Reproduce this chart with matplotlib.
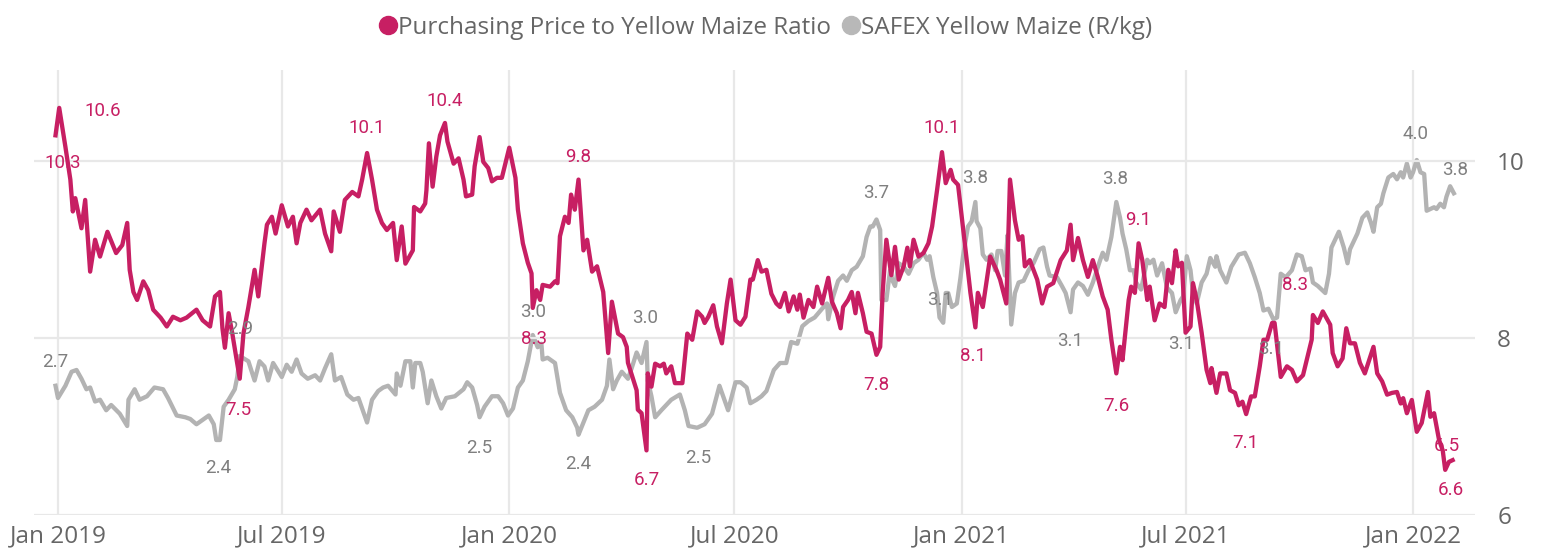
import matplotlib
matplotlib.use("Agg")
import matplotlib.pyplot as plt
import matplotlib.dates as mdates
from matplotlib.lines import Line2D
import pandas as pd

# day offsets from 2019-01-01 and values
ratio_days = [
    -2, 1, 6, 10, 12, 14, 19, 22, 26, 30, 34, 40, 47, 52, 56, 58, 61, 64, 69, 73,
    77, 83, 88, 93, 99, 104, 112, 117, 123, 127, 131, 133, 135, 138, 141, 147, 150, 154, 159, 162,
    167, 169, 173, 176, 181, 186, 190, 193, 196, 201, 205, 212, 216, 221, 223, 228, 232, 238, 243, 246,
    250, 254, 258, 262, 266, 271, 274, 278, 281, 287, 288, 293, 297, 298, 300, 303, 306, 309, 313, 315,
    320, 324, 328, 330, 335, 337, 341, 344, 348, 351, 355, 359, 365, 370, 372, 376, 380, 383, 384, 387,
    390, 392, 398, 402, 404, 406, 410, 413, 415, 418, 421, 425, 428, 432, 436, 441, 445, 448, 453, 457,
    460, 461, 468, 469, 472, 476, 477, 480, 483, 487, 490, 492, 496, 499, 505, 509, 513, 517, 521, 523,
    526, 530, 533, 537, 541, 544, 548, 552, 556, 560, 562, 566, 569, 573, 577, 581, 584, 588, 591, 595,
    598, 600, 603, 607, 611, 614, 618, 623, 626, 630, 633, 635, 639, 642, 645, 647, 651, 654, 658, 662,
    665, 667, 670, 674, 677, 680, 684, 687, 689, 692, 696, 700, 704, 707, 711, 715, 718, 722, 724, 728,
    731, 735, 738, 742, 744, 748, 754, 759, 762, 767, 770, 774, 777, 780, 782, 786, 792, 796, 800, 805,
    811, 816, 819, 821, 825, 829, 833, 837, 841, 845, 849, 852, 856, 859, 861, 866, 868, 871, 874, 877,
    881, 883, 887, 891, 895, 898, 901, 904, 906, 909, 912, 916, 918, 921, 925, 929, 932, 933, 937, 940,
    945, 948, 952, 955, 958, 961, 965, 968, 972, 975, 978, 982, 984, 989, 994, 998, 1002, 1007, 1010, 1014,
    1015, 1019, 1023, 1029, 1031, 1035, 1039, 1042, 1045, 1049, 1053, 1057, 1060, 1064, 1067, 1071, 1075, 1079, 1083, 1086,
    1088, 1091, 1095, 1099, 1103, 1108, 1110, 1113, 1117, 1120, 1122, 1125, 1128,
]
ratio = [
    10.29, 10.60, 10.16, 9.79, 9.43, 9.58, 9.24, 9.56, 8.75, 9.11, 8.92, 9.20, 8.96, 9.05, 9.30, 8.77, 8.52, 8.43, 8.64, 8.54,
    8.32, 8.23, 8.13, 8.24, 8.20, 8.23, 8.32, 8.20, 8.13, 8.47, 8.52, 8.11, 7.89, 8.28, 8.05, 7.54, 8.05, 8.35, 8.77, 8.47,
    9.07, 9.28, 9.37, 9.18, 9.50, 9.26, 9.37, 9.07, 9.30, 9.45, 9.33, 9.45, 9.18, 8.98, 9.43, 9.20, 9.56, 9.65, 9.60, 9.79,
    10.09, 9.79, 9.45, 9.30, 9.22, 9.30, 8.88, 9.26, 8.84, 8.99, 9.48, 9.43, 9.52, 9.67, 10.20, 9.71, 10.05, 10.29, 10.43, 10.22,
    9.97, 10.03, 9.79, 9.60, 9.62, 9.94, 10.27, 9.99, 9.92, 9.77, 9.81, 9.81, 10.15, 9.81, 9.45, 9.07, 8.85, 8.73, 8.34, 8.54,
    8.43, 8.60, 8.58, 8.64, 8.62, 9.15, 9.37, 9.30, 9.62, 9.45, 9.79, 8.99, 9.11, 8.75, 8.81, 8.52, 7.83, 8.41, 8.05, 8.01,
    7.90, 7.72, 7.41, 7.19, 7.15, 6.73, 7.60, 7.45, 7.71, 7.68, 7.71, 7.60, 7.68, 7.49, 7.49, 8.05, 7.98, 8.30, 8.24, 8.17,
    8.24, 8.37, 8.13, 7.94, 8.39, 8.66, 8.20, 8.15, 8.24, 8.66, 8.66, 8.88, 8.75, 8.77, 8.50, 8.39, 8.35, 8.51, 8.30, 8.47,
    8.32, 8.49, 8.23, 8.43, 8.35, 8.58, 8.39, 8.68, 8.41, 8.28, 8.11, 8.35, 8.43, 8.52, 8.28, 8.51, 8.28, 8.07, 8.05, 7.81,
    7.90, 8.51, 9.11, 8.71, 9.03, 8.66, 8.81, 9.02, 8.81, 9.11, 8.92, 8.96, 9.07, 9.26, 9.67, 10.10, 9.75, 9.90, 9.79, 9.73,
    9.37, 8.88, 8.51, 8.12, 8.51, 8.35, 8.92, 8.77, 8.66, 8.39, 9.79, 9.33, 9.11, 9.15, 8.81, 8.88, 8.66, 8.39, 8.58, 8.62,
    8.88, 8.99, 9.28, 8.88, 9.13, 8.88, 8.69, 8.88, 8.69, 8.47, 8.32, 7.98, 7.60, 7.90, 7.75, 8.43, 8.58, 8.51, 9.07, 8.88,
    8.43, 8.58, 8.20, 8.39, 8.35, 8.77, 8.62, 8.99, 8.81, 8.85, 8.06, 8.13, 8.62, 8.43, 8.06, 7.64, 7.49, 7.66, 7.38, 7.60,
    7.60, 7.41, 7.38, 7.24, 7.28, 7.14, 7.34, 7.34, 7.68, 7.98, 7.98, 8.17, 8.17, 7.56, 7.68, 7.64, 7.51, 7.58, 7.75, 7.98,
    8.26, 8.17, 8.30, 8.15, 7.83, 7.68, 7.77, 8.11, 7.94, 7.94, 7.72, 7.60, 7.73, 7.90, 7.60, 7.51, 7.36, 7.38, 7.39, 7.26,
    7.32, 7.15, 7.30, 6.94, 7.04, 7.39, 7.11, 7.15, 6.85, 6.73, 6.51, 6.60, 6.62,
]

maize_days = [
    -2, 0, 6, 11, 15, 19, 23, 26, 30, 34, 39, 43, 50, 56, 57, 62, 66, 72, 78, 85,
    89, 96, 103, 107, 112, 116, 122, 126, 128, 131, 134, 138, 143, 145, 147, 154, 159, 163, 167, 170,
    174, 181, 185, 189, 193, 197, 202, 208, 212, 216, 221, 224, 229, 234, 239, 243, 250, 254, 259, 263,
    267, 273, 274, 277, 281, 285, 287, 289, 293, 295, 299, 302, 306, 310, 314, 321, 328, 331, 335, 339,
    341, 345, 351, 356, 360, 364, 368, 372, 376, 380, 384, 388, 391, 392, 396, 402, 406, 411, 416, 420,
    421, 425, 429, 434, 440, 444, 446, 449, 452, 456, 461, 464, 468, 472, 476, 477, 480, 483, 488, 496,
    503, 507, 510, 517, 523, 529, 535, 542, 548, 552, 557, 560, 565, 569, 573, 579, 584, 589, 593, 598,
    602, 607, 612, 618, 622, 623, 627, 631, 635, 638, 642, 646, 651, 654, 657, 659, 662, 665, 666, 670,
    673, 675, 677, 680, 684, 688, 692, 696, 700, 703, 705, 708, 711, 713, 716, 718, 720, 723, 727, 730,
    732, 736, 739, 742, 743, 746, 748, 751, 755, 758, 760, 763, 766, 768, 771, 774, 777, 781, 785, 789,
    794, 797, 800, 802, 808, 812, 815, 819, 821, 825, 829, 833, 837, 843, 845, 848, 852, 856, 859, 861,
    864, 867, 870, 872, 876, 881, 883, 886, 889, 893, 897, 901, 904, 908, 910, 913, 916, 918, 921, 925,
    929, 932, 936, 937, 940, 945, 949, 955, 960, 964, 968, 972, 975, 979, 983, 986, 989, 993, 998, 1002,
    1006, 1009, 1013, 1015, 1019, 1025, 1028, 1030, 1036, 1040, 1043, 1045, 1051, 1055, 1059, 1062, 1064, 1067, 1070, 1072,
    1076, 1080, 1083, 1086, 1088, 1091, 1094, 1096, 1099, 1102, 1105, 1107, 1110, 1113, 1115, 1118, 1121, 1123, 1126, 1129,
]
maize = [
    2.71, 2.64, 2.71, 2.79, 2.80, 2.75, 2.69, 2.70, 2.62, 2.63, 2.57, 2.60, 2.55, 2.48, 2.63, 2.69, 2.63, 2.65, 2.70, 2.69,
    2.64, 2.54, 2.53, 2.52, 2.49, 2.51, 2.54, 2.49, 2.40, 2.40, 2.59, 2.63, 2.69, 2.76, 2.88, 2.85, 2.74, 2.85, 2.82, 2.74,
    2.84, 2.76, 2.83, 2.79, 2.86, 2.78, 2.75, 2.77, 2.74, 2.81, 2.89, 2.74, 2.76, 2.66, 2.63, 2.64, 2.50, 2.63, 2.68, 2.70,
    2.71, 2.66, 2.78, 2.71, 2.85, 2.85, 2.70, 2.84, 2.84, 2.79, 2.61, 2.74, 2.65, 2.58, 2.64, 2.65, 2.69, 2.73, 2.70, 2.60,
    2.53, 2.59, 2.65, 2.65, 2.61, 2.54, 2.58, 2.70, 2.74, 2.85, 3.00, 2.93, 2.95, 2.86, 2.87, 2.84, 2.67, 2.57, 2.53, 2.47,
    2.43, 2.50, 2.57, 2.59, 2.63, 2.71, 2.86, 2.69, 2.74, 2.79, 2.75, 2.81, 2.90, 2.84, 2.96, 2.74, 2.65, 2.53, 2.57, 2.63,
    2.66, 2.57, 2.48, 2.47, 2.49, 2.55, 2.71, 2.57, 2.73, 2.73, 2.70, 2.61, 2.63, 2.65, 2.68, 2.80, 2.84, 2.84, 2.96, 2.95,
    3.05, 3.08, 3.10, 3.15, 3.18, 3.09, 3.22, 3.31, 3.34, 3.31, 3.37, 3.39, 3.45, 3.56, 3.62, 3.62, 3.66, 3.60, 3.20, 3.20,
    3.37, 3.31, 3.28, 3.41, 3.39, 3.35, 3.41, 3.43, 3.47, 3.43, 3.45, 3.33, 3.24, 3.10, 3.07, 3.24, 3.24, 3.16, 3.18, 3.33,
    3.45, 3.62, 3.65, 3.76, 3.65, 3.61, 3.46, 3.43, 3.46, 3.37, 3.48, 3.48, 3.34, 3.57, 3.06, 3.24, 3.30, 3.31, 3.37, 3.41,
    3.49, 3.50, 3.39, 3.34, 3.33, 3.28, 3.24, 3.13, 3.26, 3.30, 3.28, 3.23, 3.30, 3.43, 3.47, 3.43, 3.56, 3.76, 3.67, 3.58,
    3.49, 3.37, 3.37, 3.30, 3.26, 3.43, 3.41, 3.43, 3.34, 3.41, 3.27, 3.24, 3.13, 3.20, 3.22, 3.45, 3.37, 3.24, 3.18, 3.30,
    3.35, 3.44, 3.39, 3.45, 3.37, 3.30, 3.39, 3.46, 3.47, 3.41, 3.33, 3.24, 3.14, 3.15, 3.09, 3.10, 3.35, 3.33, 3.37, 3.46,
    3.45, 3.37, 3.38, 3.30, 3.28, 3.24, 3.35, 3.50, 3.59, 3.50, 3.41, 3.49, 3.58, 3.67, 3.70, 3.64, 3.59, 3.73, 3.75, 3.81,
    3.90, 3.92, 3.89, 3.93, 3.90, 3.98, 3.90, 3.93, 4.00, 3.93, 3.92, 3.71, 3.72, 3.73, 3.72, 3.75, 3.73, 3.79, 3.85, 3.81,
]

# labelled points (by day) and where the label sits relative to the point, in pixels
ratio_label_days = [-2, 1, 250, 313, 421, 384, 147, 476, 662, 715, 742, 856, 874, 961, 1023, 1122, 1128]
ratio_label_dx = [7, 44, 0, 0, 0, 1, -1, 0, 0, 0, -2, 0, 0, -1, -28, 2, -2]
ratio_label_dy = [28, 3, -25, -22, -23, 31, 31, 30, 30, -24, 29, 33, -23, 29, -26, -24, 30]

maize_label_days = [-2, 128, 147, 341, 384, 421, 476, 517, 662, 716, 742, 819, 856, 904, 983, 1099, 1129]
maize_label_dx = [0, 2, 0, 0, 0, 0, -1, 1, 0, -3, 0, 0, -1, 5, -2, -1, 1]
maize_label_dy = [-24, 28, -27, 31, -23, 29, -24, 30, -26, -23, -24, 29, -23, 32, 30, -26, -23]

series_names = ["Purchasing Price to Yellow Maize Ratio", "SAFEX Yellow Maize (R/kg)"]

PINK = "#C71F63"
GREY_LINE = "#B3B3B3"
GREY_TEXT = "#7F7F7F"
AXIS_TEXT = "#666666"
GRID = "#E8E8E8"
TICK_SIZE = 17.5

base = pd.Timestamp("2019-01-01")
ratio_dates = base + pd.to_timedelta(ratio_days, unit="D")
maize_dates = base + pd.to_timedelta(maize_days, unit="D")

fig = plt.figure(figsize=(15.41, 5.53), dpi=100)
ax = fig.add_axes([34 / 1541, 38 / 553, 1441 / 1541, 445 / 553])  # maize, hidden scale
ax2 = ax.twinx()  # ratio, right-hand scale

ax.plot(maize_dates, maize, color=GREY_LINE, lw=3.1, solid_joinstyle="round", zorder=2)
ax2.plot(ratio_dates, ratio, color=PINK, lw=3.1, solid_joinstyle="round", zorder=3)

ax.set_ylim(2.4 - 75 / 175, 2.4 + 370 / 175)
ax2.set_ylim(6, 6 + 445 / 88.5)
ax.set_xlim(base - pd.Timedelta(days=19.4), pd.Timestamp("2022-01-01") + pd.Timedelta(days=50.1))

ax.set_yticks([])
ax2.set_yticks([6, 8, 10])
ax2.tick_params(axis="y", length=0, pad=16, labelsize=TICK_SIZE, labelcolor=AXIS_TEXT)
ax2.yaxis.grid(True, color=GRID, lw=1.6)
ax.xaxis.set_major_locator(mdates.MonthLocator(bymonth=[1, 7]))
ax.xaxis.set_major_formatter(mdates.DateFormatter("%b %Y"))
ax.tick_params(axis="x", length=0, pad=7, labelsize=TICK_SIZE, labelcolor=AXIS_TEXT)
ax.xaxis.grid(True, color=GRID, lw=1.6)
ax.set_axisbelow(True)
ax2.set_axisbelow(True)
for a in (ax, ax2):
    for s in a.spines.values():
        s.set_visible(False)
for lbl in ax.get_xticklabels() + ax2.get_yticklabels():
    lbl.set_fontfamily("Open Sans")

ax.set_zorder(1)
ax2.set_zorder(2)
ax2.patch.set_visible(False)


def add_labels(src_ax, dates, days, values, ldays, ldx, ldy, color):
    # labels go on the top axes so they sit above both lines
    for d, dx, dy in zip(ldays, ldx, ldy):
        i = days.index(d)
        ax2.annotate(f"{values[i]:.1f}", (mdates.date2num(dates[i]), values[i]),
                     xycoords=src_ax.transData, xytext=(dx, -dy),
                     textcoords="offset pixels", ha="center", va="center",
                     fontsize=13.5, family="Roboto", color=color, zorder=5)


add_labels(ax2, ratio_dates, ratio_days, ratio, ratio_label_days, ratio_label_dx, ratio_label_dy, PINK)
add_labels(ax, maize_dates, maize_days, maize, maize_label_days, maize_label_dx, maize_label_dy, GREY_TEXT)

handles = [Line2D([], [], marker="o", ls="", ms=13, color=PINK),
           Line2D([], [], marker="o", ls="", ms=13, color="#B8B8B8")]
fig.legend(handles, series_names, loc="upper center", bbox_to_anchor=(0.497, 1.0), ncol=2,
           frameon=False, handlelength=0.7, handletextpad=0.05, columnspacing=0.5,
           prop={"family": "Open Sans", "size": TICK_SIZE}, labelcolor=AXIS_TEXT, borderaxespad=0.25)

fig.savefig("out.png", dpi=100)
